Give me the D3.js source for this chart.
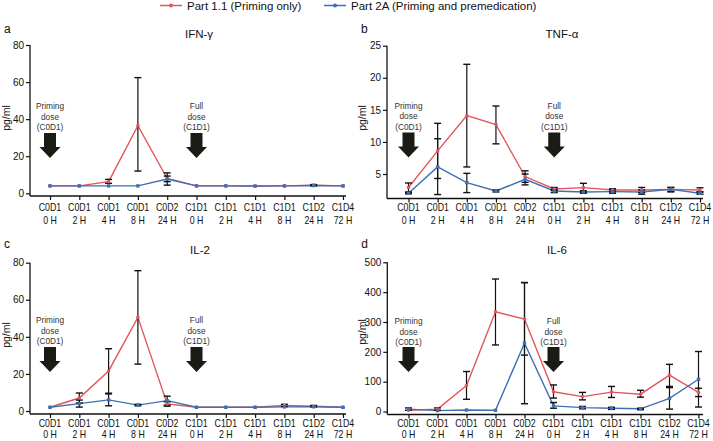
<!DOCTYPE html>
<html>
<head>
<meta charset="utf-8">
<script src="https://cdn.jsdelivr.net/npm/d3@7"></script>
<style>
  body { margin: 0; background: #fff; }
  svg { display: block; }
  text { font-family: "Liberation Sans", Arial, sans-serif; fill: #111; }
  .ylab { font-size: 10px; }
  .note { font-size: 8.3px; fill: #333; }
</style>
</head>
<body>
<div id="vis"></div>
<script>
const W = 713, H = 441;
const redColor = '#e2575c', blueColor = '#3f6fb4';

// time points (two-line tick labels)
const visits = ['C0D1', 'C0D1', 'C0D1', 'C0D1', 'C0D2', 'C1D1', 'C1D1', 'C1D1', 'C1D1', 'C1D2', 'C1D4'];
const hours = ['0 H', '2 H', '4 H', '8 H', '24 H', '0 H', '2 H', '4 H', '8 H', '24 H', '72 H'];

const seriesNames = ['Part 1.1 (Priming only)', 'Part 2A (Priming and premedication)'];

// IFN-gamma
const ifnPart11 = [4.0, 4.0, 6.3, 36.5, 8.0, 4.0, 4.0, 3.9, 4.0, 4.4, 4.0];
const ifnPart11Err = [null, null, [5.4, 7.5], [12.0, 62.4], [6.3, 9.3], null, null, null, null, [4.0, 4.7], null];
const ifnPart2A = [4.0, 4.0, 4.0, 4.0, 7.7, 4.0, 4.0, 3.9, 4.0, 4.2, 4.0];
const ifnPart2AErr = [null, null, null, null, [4.4, 11.0], null, null, null, null, null, null];
const ifnTicks = [0, 20, 40, 60, 80];

// TNF-alpha
const tnfPart11 = [2.9, 8.6, 14.1, 12.7, 4.6, 2.66, 2.87, 2.5, 2.5, 2.6, 2.5];
const tnfPart11Err = [[2.2, 3.6], [4.3, 12.9], [6.1, 22.1], [9.7, 15.6], [3.7, 5.5], [2.4, 2.9], [2.2, 3.55], [2.2, 2.7], [2.1, 2.9], [2.3, 2.9], [2.2, 2.85]];
const tnfPart2A = [2.0, 6.1, 3.65, 2.35, 4.17, 2.35, 2.2, 2.25, 2.2, 2.6, 2.0];
const tnfPart2AErr = [[1.9, 2.1], [1.8, 10.5], [2.1, 5.1], [2.2, 2.5], [3.3, 5.0], [2.1, 2.6], [2.0, 2.4], [2.0, 2.5], [1.85, 2.5], [2.2, 2.9], [1.85, 2.2]];
const tnfTicks = [5, 10, 15, 20, 25];

// IL-2
const il2Part11 = [2.0, 7.0, 21.6, 50.5, 3.8, 2.0, 2.0, 2.0, 3.0, 2.6, 2.0];
const il2Part11Err = [null, [4.3, 9.7], [9.6, 33.6], [25.3, 75.7], [2.6, 5.0], null, null, null, [2.4, 3.6], [2.2, 3.0], null];
const il2Part2A = [2.0, 4.0, 6.0, 3.2, 5.6, 2.0, 2.0, 2.0, 2.2, 2.3, 2.0];
const il2Part2AErr = [null, [2.1, 5.9], [2.8, 9.2], [2.8, 3.6], [3.2, 8.0], null, null, null, null, null, null];
const il2Ticks = [0, 20, 40, 60, 80];

// IL-6
const il6Part11 = [4, 8, 87, 334, 310, 66, 50, 65, 58, 122, 64];
const il6Part11Err = [null, [4, 12], [41, 134], [223, 444], [189, 432], [45, 89], [39, 64], [47, 84], [48, 71], [84, 158], [50, 78]];
const il6Part2A = [8, 3, 5, 4, 229, 19, 13, 11, 9, 44, 108];
const il6Part2AErr = [[4, 12], null, null, null, [26, 432], [11, 30], [9, 17], [7, 14], [6, 11], [8, 80], [15, 201]];
const il6Ticks = [0, 100, 200, 300, 400, 500];

const panels = [
  { letter: 'a', title: 'IFN-\u03b3', red: ifnPart11, redErr: ifnPart11Err, blue: ifnPart2A, blueErr: ifnPart2AErr, ticks: ifnTicks,
    x0: 30, x1: 50, x2: 343, xEnd: 346, yLow: 193.3, yHigh: 45, axisY: 196, titleX: 199, titleY: 38, letterY: 33,
    row1: 211.5, row2: 224.5, xFont: 11, noteY: 109, arrowTop: 133, labelX: 9.5, labelY: 118 },
  { letter: 'b', title: 'TNF-\u03b1', red: tnfPart11, redErr: tnfPart11Err, blue: tnfPart2A, blueErr: tnfPart2AErr, ticks: tnfTicks,
    x0: 387, x1: 408.5, x2: 700, xEnd: 703, yLow: 174, yHigh: 45.7, axisY: 198.5, titleX: 562, titleY: 38, letterY: 33,
    row1: 211.5, row2: 224.5, xFont: 11, noteY: 108.5, arrowTop: 132.5, labelX: 365.5, labelY: 118 },
  { letter: 'c', title: 'IL-2', red: il2Part11, redErr: il2Part11Err, blue: il2Part2A, blueErr: il2Part2AErr, ticks: il2Ticks,
    x0: 30, x1: 50, x2: 343, xEnd: 346, yLow: 411, yHigh: 262.7, axisY: 414, titleX: 200, titleY: 254, letterY: 248,
    row1: 427.5, row2: 438, xFont: 10, noteY: 323, arrowTop: 347, labelX: 9.5, labelY: 335 },
  { letter: 'd', title: 'IL-6', red: il6Part11, redErr: il6Part11Err, blue: il6Part2A, blueErr: il6Part2AErr, ticks: il6Ticks,
    x0: 387.3, x1: 408.5, x2: 698.5, xEnd: 703, yLow: 411.5, yHigh: 262.3, axisY: 414.5, titleX: 557, titleY: 254, letterY: 248,
    row1: 427.5, row2: 438, xFont: 10, noteY: 324, arrowTop: 347, labelX: 365.5, labelY: 332 }
];

const svg = d3.select('#vis').append('svg').attr('width', W).attr('height', H);

// legend
const legend = svg.append('g');
[[160, redColor], [324, blueColor]].forEach(([lx, c], i) => {
  legend.append('line').attr('x1', lx).attr('x2', lx + 22).attr('y1', 5.5).attr('y2', 5.5)
    .attr('stroke', c).attr('stroke-width', 1.5);
  legend.append('circle').attr('cx', lx + 11).attr('cy', 5.5).attr('r', 2).attr('fill', c);
  legend.append('text').attr('x', lx + 27).attr('y', 9.5).style('font-size', '11.5px').text(seriesNames[i]);
});

function arrowPath(cx, top) {
  const sw = 6, hw = 10.5, shaft = 14, head = 11;
  return `M${cx - sw},${top}L${cx + sw},${top}L${cx + sw},${top + shaft}L${cx + hw},${top + shaft}` +
         `L${cx},${top + shaft + head}L${cx - hw},${top + shaft}L${cx - sw},${top + shaft}Z`;
}

panels.forEach(p => {
  const g = svg.append('g');
  const x = d3.scalePoint().domain(d3.range(visits.length)).range([p.x1, p.x2]);
  const y = d3.scaleLinear().domain([p.ticks[0], p.ticks[p.ticks.length - 1]]).range([p.yLow, p.yHigh]);

  // axes
  g.append('line').attr('x1', p.x0).attr('x2', p.x0).attr('y1', p.yHigh).attr('y2', p.axisY)
    .attr('stroke', '#111').attr('stroke-width', 1.3);
  g.append('line').attr('x1', p.x0).attr('x2', p.xEnd).attr('y1', p.axisY).attr('y2', p.axisY)
    .attr('stroke', '#111').attr('stroke-width', 1.3);

  const yAxis = g.append('g').attr('transform', `translate(${p.x0},0)`)
    .call(d3.axisLeft(y).tickValues(p.ticks).tickSize(4).tickPadding(2));
  yAxis.select('.domain').remove();
  yAxis.selectAll('line').attr('stroke', '#111').attr('stroke-width', 1.2);
  yAxis.selectAll('text').attr('class', 'ylab').attr('fill', '#111').style('font-family', null);

  const xAxis = g.append('g').attr('transform', `translate(0,${p.axisY})`)
    .call(d3.axisBottom(x).tickSize(4).tickFormat(''));
  xAxis.select('.domain').remove();
  xAxis.selectAll('line').attr('stroke', '#111').attr('stroke-width', 1.2);

  // tick labels, squeezed horizontally like the original
  visits.forEach((v, i) => {
    const t = g.append('text').attr('text-anchor', 'middle').style('font-size', p.xFont + 'px')
      .attr('transform', `translate(${x(i)},0) scale(${p.xFont === 11 ? 0.8 : 0.88},1)`);
    t.append('tspan').attr('x', 0).attr('y', p.row1).text(v);
    t.append('tspan').attr('x', 0).attr('y', p.row2).text(hours[i]);
  });

  // titles
  g.append('text').attr('x', p.titleX).attr('y', p.titleY).attr('text-anchor', 'middle')
    .style('font-size', '11.5px').text(p.title);
  g.append('text').attr('x', p.x0 - 26).attr('y', p.letterY).style('font-size', '12px').text(p.letter);
  g.append('text').attr('transform', `translate(${p.labelX},${p.labelY}) rotate(-90)`)
    .attr('text-anchor', 'middle').style('font-size', '10.5px').text('pg/ml');

  // dose annotations
  [[0, ['Priming', 'dose', '(C0D1)']], [5, ['Full', 'dose', '(C1D1)']]].forEach(([idx, lines]) => {
    lines.forEach((s, k) => {
      g.append('text').attr('class', 'note').attr('x', x(idx)).attr('y', p.noteY + k * 10.6)
        .attr('text-anchor', 'middle').text(s);
    });
    g.append('path').attr('d', arrowPath(x(idx), p.arrowTop)).attr('fill', '#1b1b16');
  });

  const line = d3.line().x((d, i) => x(i)).y(d => y(d));
  [[p.red, redColor], [p.blue, blueColor]].forEach(([vals, c]) => {
    g.append('path').datum(vals).attr('d', line).attr('fill', 'none')
      .attr('stroke', c).attr('stroke-width', 1.4);
  });

  // error bars
  [p.redErr, p.blueErr].forEach(errs => {
    errs.forEach((e, i) => {
      if (!e) return;
      const cx = x(i);
      g.append('line').attr('x1', cx).attr('x2', cx).attr('y1', y(e[0])).attr('y2', y(e[1]))
        .attr('stroke', '#111').attr('stroke-width', 1.2);
      e.forEach(v => g.append('line').attr('x1', cx - 3.5).attr('x2', cx + 3.5)
        .attr('y1', y(v)).attr('y2', y(v)).attr('stroke', '#111').attr('stroke-width', 1.4));
    });
  });

  // markers
  g.selectAll('.redpt').data(p.red).join('circle')
    .attr('cx', (d, i) => x(i)).attr('cy', d => y(d)).attr('r', 1.8).attr('fill', redColor);
  g.selectAll('.bluept').data(p.blue).join('rect')
    .attr('x', (d, i) => x(i) - 1.7).attr('y', d => y(d) - 1.7).attr('width', 3.4).attr('height', 3.4)
    .attr('fill', blueColor);
});
</script>
</body>
</html>
